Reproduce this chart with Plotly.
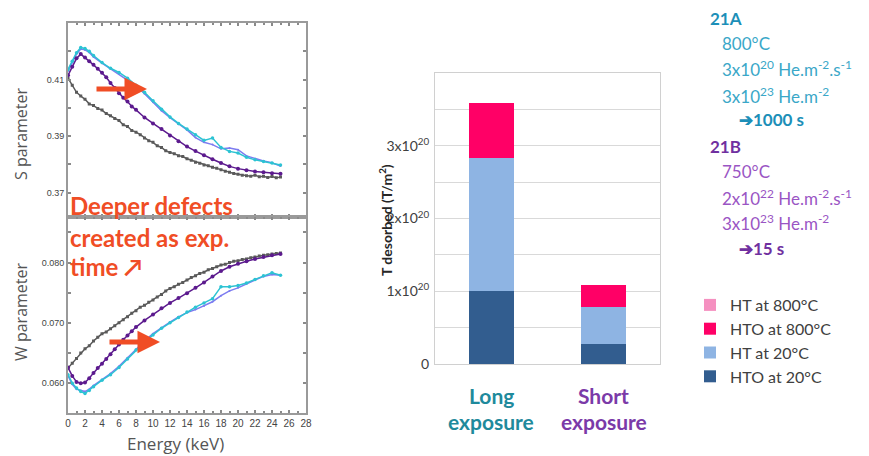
import plotly.graph_objects as go

# ---------------- data ----------------
# Positron annihilation: S and W parameters vs energy
energy_ref = [0.0, 0.5, 1.0, 1.5, 2.0, 2.5, 3.0, 3.5, 4.0, 4.5, 5.0, 5.5, 6.0, 6.5, 7.0, 7.5,
              8.0, 8.5, 9.0, 9.5, 10.0, 10.5, 11.0, 11.5, 12.0, 12.5, 13.0, 13.5, 14.0, 14.5,
              15.0, 15.5, 16.0, 16.5, 17.0, 17.5, 18.0, 18.5, 19.0, 19.5, 20.0, 20.5, 21.0,
              21.5, 22.0, 22.5, 23.0, 23.5, 24.0, 24.5, 25.0]
s_ref = [.4105, .4080, .4055, .4042, .4030, .4014, .4008, .3998, .3992, .3980, .3972, .3962,
         .3955, .3940, .3934, .3920, .3914, .3905, .3893, .3884, .3878, .3866, .3860, .3848,
         .3842, .3838, .3831, .3828, .3820, .3815, .3808, .3804, .3798, .3795, .3790, .3786,
         .3781, .3776, .3772, .3768, .3765, .3762, .3760, .3758, .3762, .3756, .3758, .3754,
         .3757, .3753, .3755]
w_ref = [.0625, .0633, .0641, .0650, .0657, .0662, .0670, .0676, .0682, .0685, .0690, .0695,
         .0700, .0705, .0710, .0716, .0720, .0726, .0729, .0734, .0738, .0743, .0747, .0753,
         .0757, .0760, .0764, .0767, .0771, .0775, .0778, .0782, .0784, .0788, .0790, .0793,
         .0796, .0797, .0800, .0802, .0803, .0805, .0806, .0808, .0809, .0811, .0812, .0813,
         .0814, .0815, .0816]

energy_21b = [0, 0.5, 1, 1.5, 2, 2.5, 3, 3.5, 4, 4.5, 5, 5.5, 6, 6.5, 7, 7.5, 8, 9, 10, 11, 12,
              13, 14, 15, 16, 17, 18, 19, 20, 21, 22, 23, 24, 25]
s_21b = [.4115, .4145, .4175, .4190, .4178, .4165, .4152, .4138, .4124, .4108, .4088, .4070,
         .4052, .4036, .4022, .4005, .3993, .3966, .3945, .3925, .3902, .3882, .3863, .3847,
         .3832, .3818, .3805, .3793, .3785, .3779, .3775, .3772, .3769, .3767]
w_21b = [.0626, .0612, .0602, .0600, .0601, .0608, .0617, .0625, .0632, .0640, .0648, .0656,
         .0664, .0672, .0679, .0686, .0693, .0704, .0714, .0724, .0733, .0741, .0749, .0758,
         .0767, .0777, .0786, .0793, .0798, .0802, .0806, .0809, .0812, .0814]

energy_21a = [0, 0.5, 1, 1.5, 2, 2.5, 3, 4, 5, 6, 7, 8, 9, 10, 11, 12, 13, 14, 15, 16, 17, 18,
              19, 20, 21, 22, 23, 24, 25]
s_21a = [.4136, .4165, .4195, .4213, .4210, .4200, .4185, .4160, .4140, .4125, .4105, .4080,
         .4055, .4025, .3995, .3968, .3945, .3925, .3905, .3885, .3893, .3860, .3846, .3840,
         .3825, .3816, .3810, .3805, .3798]
w_21a = [.0614, .0600, .0592, .0586, .0583, .0588, .0594, .0605, .0614, .0626, .0640, .0655,
         .0668, .0680, .0691, .0700, .0709, .0718, .0726, .0733, .0740, .0760, .0760, .0762,
         .0766, .0772, .0778, .0783, .0779]
s_21a_bis = [.4130, .4160, .4190, .4208, .4205, .4196, .4180, .4158, .4138, .4120, .4100, .4078,
             .4050, .4020, .3990, .3965, .3942, .3922, .3895, .3878, .3870, .3855, .3858, .3852,
             .3830, .3820, .3812, .3806, .3794]
w_21a_bis = [.0612, .0598, .0590, .0588, .0586, .0590, .0596, .0606, .0616, .0628, .0642, .0656,
             .0670, .0682, .0692, .0701, .0710, .0717, .0722, .0728, .0735, .0745, .0753, .0758,
             .0765, .0771, .0777, .0780, .0779]

# Tritium desorption (stacked bars)
categories = ["Long", "Short"]
category_lines = [["Long", "exposure"], ["Short", "exposure"]]
hto_20 = [1.00e20, 0.28e20]
ht_20 = [1.83e20, 0.51e20]
hto_800 = [0.76e20, 0.29e20]
ht_800 = [0.0, 0.0]
bar_tickvals = [0, 0.5e20, 1e20, 1.5e20, 2e20, 2.5e20, 3e20, 3.5e20, 4e20]
bar_ticktext = ["0", "", "1x10<sup>20</sup>", "", "2x10<sup>20</sup>", "",
                "3x10<sup>20</sup>", "", ""]

# ---------------- figure ----------------
W, H = 869, 456


def px(x):
    return x / W


def py(y):
    return 1 - y / H


fig = go.Figure()

GRAY = "#5a5a5a"
PURPLE = "#5c1a8e"
CYAN = "#2cc3d3"
SLATE = "#7d7cf0"

line_sets = [
    (energy_ref, s_ref, w_ref, GRAY, 3, "square"),
    (energy_21a, s_21a_bis, w_21a_bis, SLATE, 2, "circle"),
    (energy_21a, s_21a, w_21a, CYAN, 3.5, "circle"),
    (energy_21b, s_21b, w_21b, PURPLE, 4, "circle"),
]
for xs, ss, ws, col, msz, sym in line_sets:
    fig.add_trace(go.Scatter(x=xs, y=ss, mode="lines+markers", xaxis="x", yaxis="y",
                             line=dict(color=col, width=1.5),
                             marker=dict(color=col, size=msz, symbol=sym),
                             showlegend=False, hoverinfo="skip"))
    fig.add_trace(go.Scatter(x=xs, y=ws, mode="lines+markers", xaxis="x2", yaxis="y2",
                             line=dict(color=col, width=1.5),
                             marker=dict(color=col, size=msz, symbol=sym),
                             showlegend=False, hoverinfo="skip"))

bar_series = [
    ("HTO at 20°C", hto_20, "#325d8f"),
    ("HT at 20°C", ht_20, "#8eb4e3"),
    ("HTO at 800°C", hto_800, "#ff0066"),
    ("HT at 800°C", ht_800, "#f590c0"),
]
for name, vals, col in bar_series:
    fig.add_trace(go.Bar(x=categories, y=vals, name=name, marker=dict(color=col, line=dict(width=0)),
                         xaxis="x3", yaxis="y3"))

frame = dict(showline=True, linecolor="#9a9a9a", linewidth=2, mirror="allticks",
             ticks="inside", ticklen=3, tickcolor="#8a8a8a", tickwidth=1.5,
             showgrid=False, zeroline=False, automargin=False)
x_dom = [px(68), px(306)]
tickfont_small = dict(family="Liberation Sans, Arial", size=9, color="#444")

fig.update_layout(
    width=W, height=H, autosize=False,
    margin=dict(l=0, r=0, t=0, b=0, pad=0, autoexpand=False),
    paper_bgcolor="white", plot_bgcolor="white",
    barmode="stack", bargap=0.6,
    xaxis=dict(domain=x_dom, anchor="y", range=[0, 28], dtick=2, tick0=0,
               showticklabels=False,
               minor=dict(dtick=1, ticks="inside", ticklen=2, tickcolor="#8a8a8a"), **frame),
    yaxis=dict(domain=[py(216.7), py(23.3)], anchor="x", range=[0.3615, 0.4299],
               tick0=0.37, dtick=0.02, tickformat=".2f", tickfont=tickfont_small,
               minor=dict(dtick=0.01, ticks="inside", ticklen=3, tickcolor="#8a8a8a"), **frame),
    xaxis2=dict(domain=x_dom, anchor="y2", range=[0, 28], dtick=2, tick0=0,
                tickfont=dict(family="Liberation Sans, Arial", size=10, color="#444"),
                minor=dict(dtick=1, ticks="inside", ticklen=2, tickcolor="#8a8a8a"), **frame),
    yaxis2=dict(domain=[py(413.3), py(216.7)], anchor="x2", range=[0.0550, 0.0876],
                tick0=0.06, dtick=0.01, tickformat=".3f", tickfont=tickfont_small,
                minor=dict(dtick=0.005, ticks="inside", ticklen=3, tickcolor="#8a8a8a"), **frame),
    xaxis3=dict(domain=[px(435), px(660)], anchor="y3", showticklabels=False,
                showline=True, linecolor="#d0d0d0", linewidth=1, mirror=True, ticks="",
                automargin=False),
    yaxis3=dict(domain=[py(364), py(73)], anchor="x3", range=[0, 4e20],
                tickmode="array", tickvals=bar_tickvals, ticktext=bar_ticktext,
                tickfont=dict(family="Lato, Open Sans", size=14, color="#404040"),
                showgrid=True, gridcolor="#d9d9d9", gridwidth=1, zeroline=False,
                showline=True, linecolor="#d0d0d0", linewidth=1, mirror=True, ticks="",
                ticklabelstandoff=2, automargin=False),
    legend=dict(x=px(690), y=py(288), xanchor="left", yanchor="top",
                traceorder="reversed", tracegroupgap=0,
                font=dict(family="Lato, Open Sans", size=16, color="#404040"),
                bgcolor="rgba(0,0,0,0)", itemwidth=30),
    showlegend=True,
)

ann = []
# axis titles on the left panels
ann.append(dict(x=px(21), y=py(134), xref="paper", yref="paper", text="S parameter",
                textangle=-90, showarrow=False, xanchor="center", yanchor="middle",
                font=dict(family="Open Sans", size=16, color="#555555")))
ann.append(dict(x=px(21), y=py(312), xref="paper", yref="paper", text="W parameter",
                textangle=-90, showarrow=False, xanchor="center", yanchor="middle",
                font=dict(family="Open Sans", size=16, color="#555555")))
ann.append(dict(x=px(175), y=py(443), xref="paper", yref="paper", text="Energy (keV)",
                showarrow=False, xanchor="center", yanchor="middle",
                font=dict(family="Open Sans", size=17, color="#555555")))

# red comments
red = "#f04d25"
for txt, yy in [("Deeper defects", 205), ("created as exp.", 238), ("time ↗", 266)]:
    ann.append(dict(x=px(68), y=py(yy), xref="paper", yref="paper", text=f"<b>{txt}</b>",
                    xanchor="left", yanchor="middle", showarrow=False,
                    font=dict(family="Lato", size=24, color=red)))
for hx, hy in [(147, 89), (160, 342)]:
    ann.append(dict(x=px(hx), y=py(hy), xref="paper", yref="paper", text="",
                    showarrow=True, ax=-52, ay=0, arrowhead=2, arrowsize=0.9,
                    arrowwidth=5, arrowcolor=red))

# bar chart y title
ann.append(dict(x=px(386), y=py(220), xref="paper", yref="paper",
                text="<b>T desorbed (T/m<sup>2</sup>)</b>", textangle=-90, showarrow=False,
                xanchor="center", yanchor="middle",
                font=dict(family="Lato, Open Sans", size=14, color="#262626")))

# category labels
cat_colors = ["#1f8a9c", "#7b3aa8"]
for cat, lines, col in zip(categories, category_lines, cat_colors):
    for ln, yy in zip(lines, [395, 421]):
        ann.append(dict(x=cat, y=py(yy), xref="x3", yref="paper", text=f"<b>{ln}</b>",
                        showarrow=False, yanchor="middle", xanchor="center",
                        font=dict(family="Lato", size=21, color=col)))

# right-hand experimental conditions
teal_t, teal = "#1c8fb8", "#3aa7c8"
pur_t, pur = "#7030a0", "#9a55c4"
right_lines = [
    ("<b>21A</b>", 708, 18, teal_t),
    ("800°C", 720, 43, teal),
    ("3x10<sup>20</sup> He.m<sup>-2</sup>.s<sup>-1</sup>", 720, 69, teal),
    ("3x10<sup>23</sup> He.m<sup>-2</sup>", 720, 95, teal),
    ("<b>➔1000 s</b>", 737, 120, teal_t),
    ("<b>21B</b>", 708, 146, pur_t),
    ("750°C", 720, 171, pur),
    ("2x10<sup>22</sup> He.m<sup>-2</sup>.s<sup>-1</sup>", 720, 197, pur),
    ("3x10<sup>23</sup> He.m<sup>-2</sup>", 720, 222, pur),
    ("<b>➔15 s</b>", 737, 248, pur_t),
]
for txt, xx, yy, col in right_lines:
    ann.append(dict(x=px(xx), y=py(yy), xref="paper", yref="paper", text=txt,
                    xanchor="left", yanchor="middle", showarrow=False,
                    font=dict(family="Lato", size=17, color=col)))

fig.update_layout(annotations=ann)
fig.write_html("out.html", config={"displayModeBar": False},
               post_script="document.body.style.margin='0';document.body.style.padding='0';")
